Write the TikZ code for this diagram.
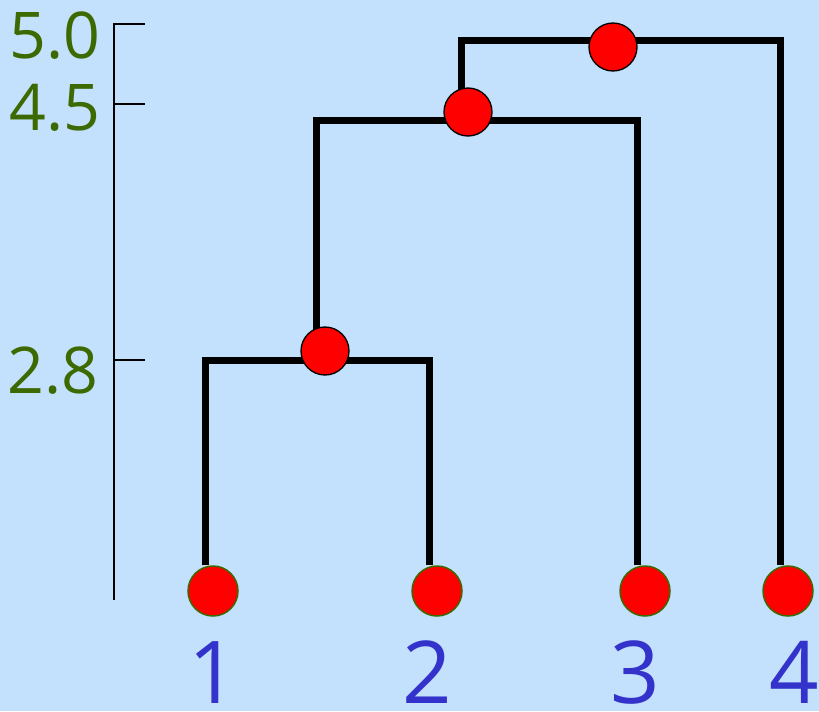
\documentclass[tikz,border=0pt]{standalone}
\usepackage{fontspec}
\setmainfont{Open Sans}
\usepackage{tikz}
\definecolor{skybg}{RGB}{195,224,252}
\definecolor{leafgreen}{RGB}{60,105,0}
\definecolor{labelblue}{RGB}{51,51,204}
\pgfdeclarelayer{bg}
\pgfsetlayers{bg,main}
\tikzset{
  leaf/.style={
    circle,
    fill=red,
    draw=leafgreen,
    line width=0.45mm,
    minimum size=15mm,
    inner sep=0pt
  },
  merge/.style={
    circle,
    fill=red,
    draw=black,
    line width=0.4mm,
    minimum size=14.4mm,
    inner sep=0pt
  },
  branch/.style={line width=2.1mm, line join=miter},
  axis/.style={line width=0.6mm},
  height/.style={text=leafgreen, font=\fontsize{55}{60}\selectfont, inner sep=0pt, anchor=base east},
  leaflabel/.style={text=labelblue, font=\fontsize{74}{80}\selectfont, inner sep=0pt, anchor=base}
}

\begin{document}
\begin{tikzpicture}[x=0.3mm, y=-0.3mm]
        \begin{pgfonlayer}{bg}
          \fill[skybg] (0,0) rectangle (819,711);
        \end{pgfonlayer}
        \useasboundingbox (0,0) rectangle (819,711);
        % height scale
        \coordinate (t50) at (114,24);
        \coordinate (t45) at (114,104);
        \coordinate (t28) at (114,360);
        \coordinate (abot) at (114,600);
        \draw[axis] ([xshift=9.3mm]t50) -- (t50) -- (abot);
        \draw[axis] (t45) -- ([xshift=9.3mm]t45);
        \draw[axis] (t28) -- ([xshift=9.3mm]t28);
        \node[height] (h50) at (101,58) {5.0};
        \node[height] (h45) at (101,130) {4.5};
        \node[height] (h28) at (99,393) {2.8};
        % leaves
        \node[leaf] (l1) at (213,591) {};
        \node[leaf] (l2) at (437,591) {};
        \node[leaf] (l3) at (645,591) {};
        \node[leaf] (l4) at (788,591) {};
        \node[leaflabel] (n1) at (213,703) {1};
        \node[leaflabel] (n2) at (427,703) {2};
        \node[leaflabel] (n3) at (635,703) {3};
        \node[leaflabel] (n4) at (794,703) {4};
        % merges
        \node[merge] (m12) at (325,351) {};
        \node[merge] (m123) at (468,112) {};
        \node[merge] (m1234) at (613,47) {};
        \coordinate (j12) at (316,360);
        \coordinate (j123) at (461,120);
        \coordinate (j1234) at (613,40);
        \begin{pgfonlayer}{bg}
          \draw[branch] ([xshift=-2.4mm]l1.north) |- (j12) -| ([xshift=-2.4mm]l2.north);
          \draw[branch] (j12) |- (j123) -| ([xshift=-2.4mm]l3.north);
          \draw[branch] (j123) |- (j1234) -| ([xshift=-2.4mm]l4.north);
        \end{pgfonlayer}
      \end{tikzpicture}
\end{document}
